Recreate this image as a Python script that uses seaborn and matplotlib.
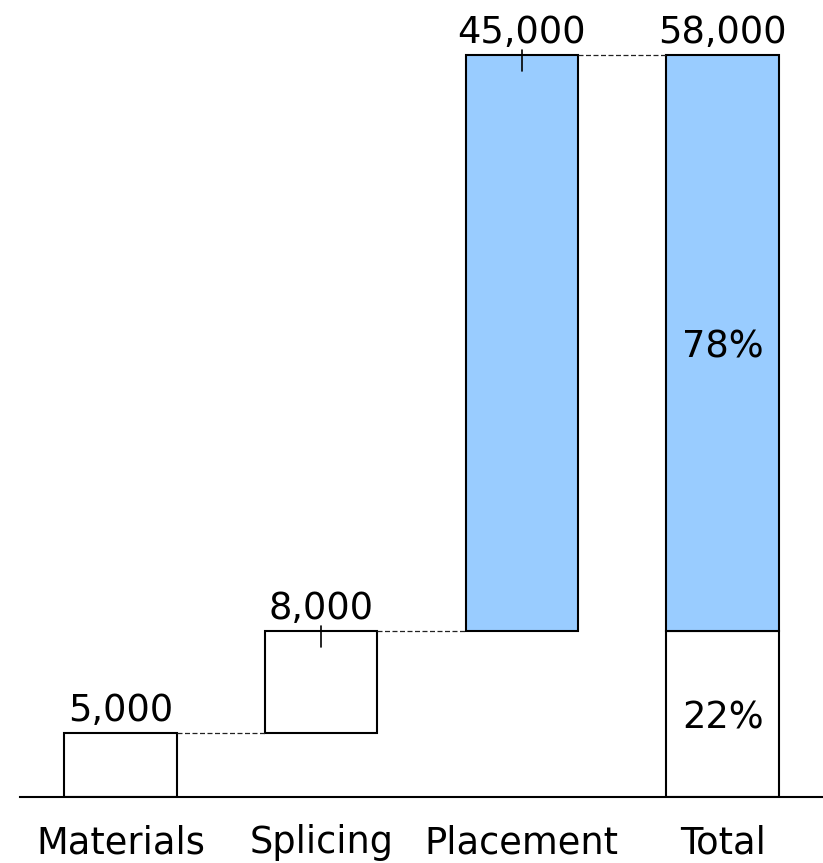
import matplotlib
matplotlib.use("Agg")
import matplotlib.pyplot as plt
import matplotlib.transforms as mtransforms
import numpy as np
import seaborn as sns

# Cost build-up (waterfall) data
categories = ["Materials", "Splicing", "Placement", "Total"]
step_names = ["Materials", "Splicing", "Placement"]
step_values = [5000, 8000, 45000]
step_fill = ["white", "white", "#99CCFF"]
value_labels = ["5,000", "8,000", "45,000", "58,000"]

total = sum(step_values)
starts = list(np.cumsum([0] + step_values[:-1]))
ends = list(np.cumsum(step_values))

# Total split: white part (materials + splicing) and blue part (placement)
white_share = step_values[0] + step_values[1]
blue_share = step_values[2]

sns.set_theme(style="white")
plt.rcParams["font.family"] = ["DejaVu Sans"]

W, H = 823, 863
fig = plt.figure(figsize=(W / 100, H / 100), dpi=100)
ax = fig.add_axes([20 / W, 66 / H, 803 / W, 793.6 / H])

bar_w = 0.56
edge = dict(edgecolor="black", linewidth=1.5)

# White blocks
white_cats = [c for c, f in zip(step_names, step_fill) if f == "white"] + ["Total"]
white_h = [v for v, f in zip(step_values, step_fill) if f == "white"] + [white_share]
white_b = [s for s, f in zip(starts, step_fill) if f == "white"] + [0]
sns.barplot(x=white_cats, y=white_h, order=categories, bottom=white_b,
            color="white", saturation=1, width=bar_w, ax=ax, **edge)

# Blue blocks
blue_cats = [c for c, f in zip(step_names, step_fill) if f != "white"] + ["Total"]
blue_h = [v for v, f in zip(step_values, step_fill) if f != "white"] + [blue_share]
blue_b = [s for s, f in zip(starts, step_fill) if f != "white"] + [white_share]
sns.barplot(x=blue_cats, y=blue_h, order=categories, bottom=blue_b,
            color="#99CCFF", saturation=1, width=bar_w, ax=ax, **edge)

# Dashed connectors between consecutive bar tops
for i, top in enumerate(ends):
    ax.plot([i + bar_w / 2, i + 1 - bar_w / 2], [top, top],
            color="#222222", linewidth=0.9, linestyle=(0, (4, 2)), zorder=1)

ax.set_xlim(-0.5, 3.5)
ax.set_ylim(0, 62000)

# Value labels above each bar
tops = ends + [total]
for i, (top, lab) in enumerate(zip(tops, value_labels)):
    ax.annotate(lab, xy=(i, top), xytext=(0, 8.5), textcoords="offset points",
                ha="center", va="baseline", fontsize=26.5, color="black")

# Small leader marks on the stacked increments
up = mtransforms.offset_copy(ax.transData, fig=fig, x=0, y=3.6, units="points")
down = mtransforms.offset_copy(ax.transData, fig=fig, x=0, y=-11.5, units="points")
for i in (1, 2):
    p0 = up.transform((i, ends[i]))
    p1 = down.transform((i, ends[i]))
    fig.add_artist(plt.Line2D([p0[0] / W, p1[0] / W], [p0[1] / H, p1[1] / H],
                              transform=fig.transFigure, color="black", linewidth=1.2))

# Percent shares inside the Total bar
pct_white = round(100 * white_share / total)
pct_blue = 100 - pct_white
ax.text(3, white_share / 2, f"{pct_white}%", ha="center", va="center_baseline",
        fontsize=26.5, color="black")
ax.text(3, white_share + blue_share / 2, f"{pct_blue}%", ha="center",
        va="center_baseline", fontsize=26.5, color="black")

ax.set_xlabel("")
ax.set_ylabel("")
ax.set_yticks([])
ax.tick_params(axis="x", length=0, pad=19.5, labelsize=26.5, labelcolor="black")
for side in ("top", "left", "right"):
    ax.spines[side].set_visible(False)
ax.spines["bottom"].set_color("black")
ax.spines["bottom"].set_linewidth(1.5)
ax.set_facecolor("white")
fig.patch.set_facecolor("white")

fig.savefig("out.png", dpi=100, facecolor="white")
